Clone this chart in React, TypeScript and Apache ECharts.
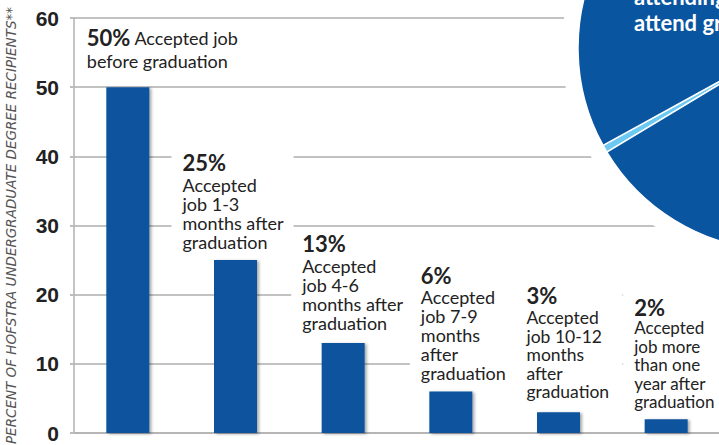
import React, { useEffect, useRef } from "react";
import * as echarts from "echarts";

const categories = [
  "Before graduation",
  "1-3 months after",
  "4-6 months after",
  "7-9 months after",
  "10-12 months after",
  "More than one year after",
];
const percents = [50, 25, 13, 6, 3, 2];
const labelLines = [
  ["Accepted job", "before graduation"],
  ["Accepted", "job 1-3", "months after", "graduation"],
  ["Accepted", "job 4-6", "months after", "graduation"],
  ["Accepted", "job 7-9", "months", "after", "graduation"],
  ["Accepted", "job 10-12", "months", "after", "graduation"],
  ["Accepted", "job more", "than one", "year after", "graduation"],
];
const yAxisTitle = "PERCENT OF HOFSTRA UNDERGRADUATE DEGREE RECIPIENTS**";
const pieNames = ["Other", "Attending or planning to attend graduate school"];
const pieValues = [0.6, 99.4];
const pieTextLines = ["attending or plan to", "attend graduate school"];

// label layout (style only)
const labelShiftX = [-52, -64, -52, -41, -43, -43];
const labelGap = [14, 6, 8, 7, 9, 6];
const labelBoxWidth = [200, 103, 100, 88, 88, 110];
const labelLineHeight = [21, 19.3, 19.2, 19, 18.6, 18.6];
const labelFontSize = [18, 18, 18, 18, 17.5, 17];
const labelPctLineHeight = [25, 25, 25, 25, 25, 22];

const BLUE = "#0a539e";

export default function App() {
  const ref = useRef<HTMLDivElement>(null);
  useEffect(() => {
    document.body.style.margin = "0";
    const chart = echarts.init(ref.current!, null, { renderer: "svg" });
    const fontBody = "Lato, 'Open Sans', sans-serif";
    const barData = percents.map((v, i) => {
      const pct = `{p|${v}%}`;
      const text =
        i === 0
          ? `${pct}{t| ${labelLines[i][0]}}\n{t|${labelLines[i][1]}}`
          : [pct, ...labelLines[i].map((l) => `{t|${l}}`)].join("\n");
      return {
        value: v,
        label: {
          show: true,
          position: "top",
          align: "left",
          verticalAlign: "bottom",
          distance: labelGap[i],
          offset: [labelShiftX[i], 0],
          formatter: text,
          backgroundColor: "#ffffff",
          padding: [3, 8, 2, 11],
          width: labelBoxWidth[i],
          rich: {
            p: {
              fontFamily: fontBody,
              fontWeight: "bold",
              fontSize: 22,
              lineHeight: labelPctLineHeight[i],
              color: "#222",
            },
            t: {
              fontFamily: fontBody,
              fontSize: labelFontSize[i],
              lineHeight: labelLineHeight[i],
              color: "#222",
            },
          },
        },
      };
    });

    chart.setOption({
      animation: false,
      grid: { left: 74, right: -1, top: 18, bottom: 12, outerBoundsMode: "none", containLabel: false },
      xAxis: {
        type: "category",
        data: categories,
        axisLine: { show: true, lineStyle: { color: "#b5b5b5", width: 2 } },
        axisTick: { show: false },
        axisLabel: { show: false },
      },
      yAxis: {
        type: "value",
        min: 0,
        max: 60,
        interval: 10,
        name: yAxisTitle,
        nameLocation: "middle",
        nameRotate: 90,
        nameGap: 56,
        nameTextStyle: {
          fontFamily: "'DejaVu Sans', sans-serif",
          fontStyle: "italic",
          fontWeight: 200,
          fontSize: 13.5,
          color: "#555",
        },
        axisLine: { show: true, lineStyle: { color: "#b0b0b0", width: 1.5 } },
        axisTick: { show: true, length: 4, lineStyle: { color: "#bdbdbd", width: 2 } },
        axisLabel: {
          margin: 15,
          fontFamily: "'Liberation Sans Narrow', 'Arial Narrow', sans-serif",
          fontWeight: "bold",
          fontSize: 21,
          color: "#222",
        },
        splitLine: { show: true, lineStyle: { color: "#c2c2c2", width: 2 } },
      },
      series: [
        {
          type: "bar",
          data: barData,
          barWidth: 43,
          itemStyle: {
            color: BLUE,
            shadowColor: "rgba(0,0,0,0.35)",
            shadowBlur: 3,
            shadowOffsetX: 2,
            shadowOffsetY: 1,
          },
          z: 3,
        },
        {
          type: "pie",
          silent: true,
          center: [780, 48],
          radius: 218,
          z: 4,
          label: { show: false },
          labelLine: { show: false },
          itemStyle: { color: "#ffffff" },
          data: [{ name: "bg", value: 1 }],
        },
        {
          type: "pie",
          silent: true,
          center: [780, 48],
          radius: 202,
          startAngle: 211,
          z: 5,
          label: { show: false },
          labelLine: { show: false },
          itemStyle: { borderColor: "#ffffff", borderWidth: 1.5 },
          data: pieValues.map((v, i) => ({
            name: pieNames[i],
            value: v,
            itemStyle: { color: i === 0 ? "#6ccaf2" : "#0a55a0" },
          })),
        },
      ],
      graphic: pieTextLines.map((t, i) => ({
        type: "text",
        z: 100,
        x: 634,
        y: 7 + i * 26,
        style: {
          text: t,
          fill: "#ffffff",
          font: `bold 22px ${fontBody}`,
          verticalAlign: "bottom",
        },
      })),
    });
    return () => chart.dispose();
  }, []);
  return <div ref={ref} style={{ width: 719, height: 445 }} />;
}
